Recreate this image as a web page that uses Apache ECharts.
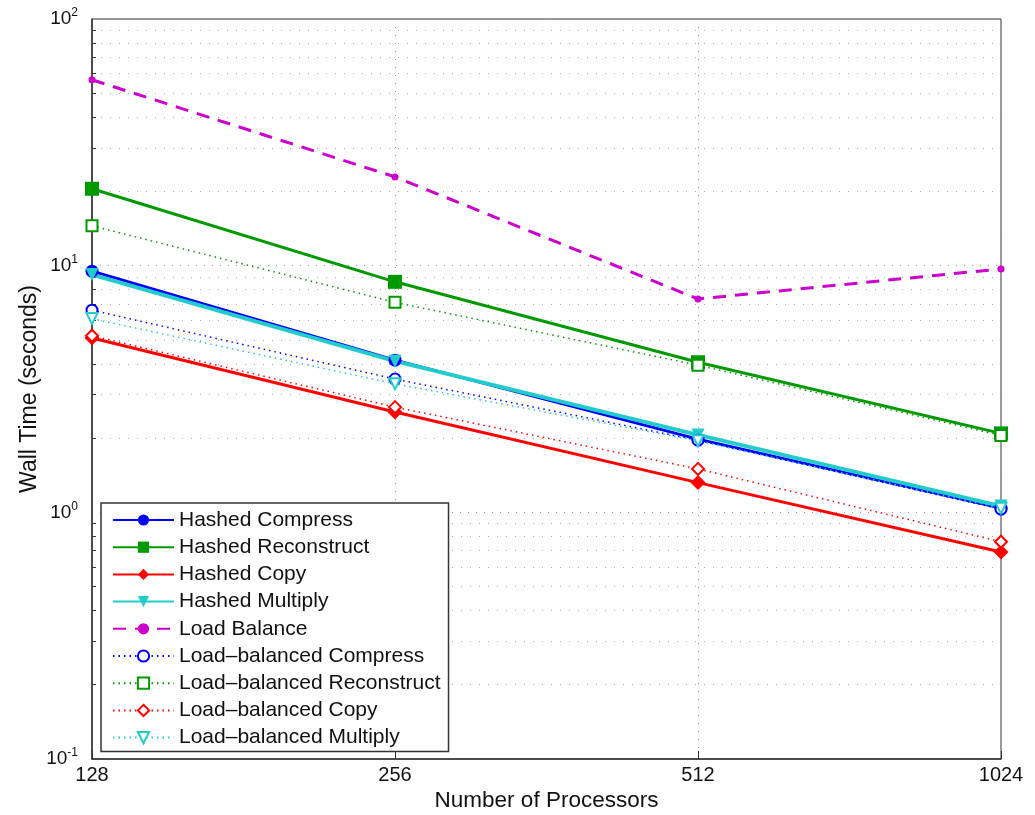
<!DOCTYPE html>
<html>
<head>
<meta charset="utf-8">
<script src="https://cdn.jsdelivr.net/npm/echarts@6/dist/echarts.min.js"></script>
<style>
  html, body { margin: 0; padding: 0; background: #fff; }
  #chart { width: 1035px; height: 815px; }
</style>
</head>
<body>
<div id="chart"></div>
<script>
// processors (x axis, log2 spaced -> category)
const processors = ['128', '256', '512', '1024'];

// wall time in seconds
const hashedCompress = [9.5, 4.14, 1.98, 1.04];
const hashedReconstruct = [20.5, 8.6, 4.06, 2.09];
const hashedCopy = [5.09, 2.55, 1.32, 0.69];
const hashedMultiply = [9.2, 4.1, 2.06, 1.06];
const loadBalance = [56.7, 22.9, 7.33, 9.7];
const lbCompress = [6.6, 3.47, 1.96, 1.03];
const lbReconstruct = [14.5, 7.1, 3.95, 2.05];
const lbCopy = [5.2, 2.67, 1.5, 0.76];
const lbMultiply = [6.1, 3.32, 1.95, 1.04];

const font = 'Liberation Sans, Arial, sans-serif';
const blue = '#0000ff', green = '#009a00', red = '#ff0000', cyan = '#22cccc', magenta = '#cc00cc';

function solid(name, data, color, symbol, size, extra) {
  return Object.assign({
    name: name, type: 'line', data: data,
    symbol: symbol, symbolSize: size,
    itemStyle: { color: color },
    lineStyle: { color: color, width: 3, type: 'solid' }
  }, extra || {});
}

function dotted(name, data, color, symbol, size, extra) {
  return Object.assign({
    name: name, type: 'line', data: data,
    symbol: symbol, symbolSize: size,
    itemStyle: { color: color, borderColor: color, borderWidth: 2.5 },
    lineStyle: { color: color, width: 1.5, type: [1.5, 4] }
  }, extra || {});
}

const chart = echarts.init(document.getElementById('chart'));

chart.setOption({
  animation: false,
  textStyle: { fontFamily: font },
  grid: {
    left: 92, right: 34, top: 19, bottom: 56,
    outerBoundsMode: 'none',
    show: true, borderColor: '#333', borderWidth: 1
  },
  legend: {
    orient: 'vertical',
    left: 101, top: 503,
    padding: [6.5, 8, 3.5, 11],
    itemWidth: 61, itemHeight: 14, itemGap: 6.2,
    backgroundColor: '#fff',
    borderColor: '#333', borderWidth: 1.5,
    textStyle: { fontFamily: font, fontSize: 21, lineHeight: 21, color: '#111' },
    data: ['Hashed Compress', 'Hashed Reconstruct', 'Hashed Copy', 'Hashed Multiply',
      'Load Balance', 'Load\u2013balanced Compress', 'Load\u2013balanced Reconstruct',
      'Load\u2013balanced Copy', 'Load\u2013balanced Multiply']
  },
  xAxis: {
    type: 'category',
    data: processors,
    boundaryGap: false,
    name: 'Number of Processors',
    nameLocation: 'middle',
    nameGap: 30,
    nameMoveOverlap: false,
    nameTextStyle: { fontSize: 22.5, color: '#111' },
    axisLine: { lineStyle: { color: '#333', width: 1.5 } },
    axisTick: { inside: true, length: 8, lineStyle: { color: '#333' } },
    axisLabel: { fontSize: 20, color: '#111', margin: 6 },
    splitLine: { show: true, lineStyle: { color: '#999', type: [1, 7], width: 1 } }
  },
  yAxis: [{
    type: 'log',
    logBase: 10,
    min: 0.1, max: 100,
    name: 'Wall Time (seconds)',
    nameLocation: 'middle',
    nameGap: 51,
    nameMoveOverlap: false,
    nameTextStyle: { fontSize: 23, color: '#111' },
    axisLine: { show: true, lineStyle: { color: '#333', width: 1.5 } },
    axisTick: { inside: true, length: 8, lineStyle: { color: '#333' } },
    minorTick: { show: true, splitNumber: 9, length: 4, lineStyle: { color: '#333' } },
    minorSplitLine: { show: true, lineStyle: { color: '#aaa', type: [1, 8], width: 1 } },
    splitLine: { show: true, lineStyle: { color: '#999', type: [1, 7], width: 1 } },
    axisLabel: {
      margin: 14,
      formatter: function (v) {
        const e = Math.round(Math.log10(v));
        return '{b|10}{s|' + e + '}';
      },
      rich: {
        b: { fontSize: 19, color: '#111', fontFamily: font },
        s: { fontSize: 12, color: '#111', fontFamily: font, verticalAlign: 'top', padding: [0, 0, 12, 0] }
      }
    }
  }],
  series: [
    solid('Hashed Compress', hashedCompress, blue, 'circle', 13),
    solid('Hashed Reconstruct', hashedReconstruct, green, 'rect', 14),
    solid('Hashed Copy', hashedCopy, red, 'diamond', 15),
    solid('Hashed Multiply', hashedMultiply, cyan, 'triangle', 13, { symbolRotate: 180, lineStyle: { color: cyan, width: 4 } }),
    {
      name: 'Load Balance', type: 'line', data: loadBalance,
      symbol: 'circle', symbolSize: 7,
      itemStyle: { color: magenta },
      lineStyle: { color: magenta, width: 3, type: [13, 9] }
    },
    dotted('Load\u2013balanced Compress', lbCompress, blue, 'emptyCircle', 11),
    dotted('Load\u2013balanced Reconstruct', lbReconstruct, green, 'emptyRect', 11),
    dotted('Load\u2013balanced Copy', lbCopy, red, 'emptyDiamond', 12),
    dotted('Load\u2013balanced Multiply', lbMultiply, cyan, 'emptyTriangle', 11, { symbolRotate: 180 })
  ]
});
</script>
</body>
</html>
